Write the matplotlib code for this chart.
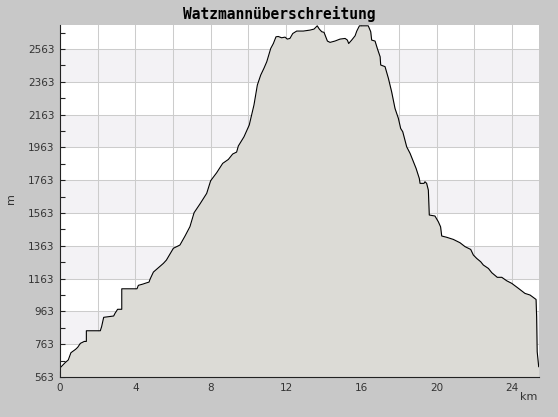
import matplotlib
matplotlib.use("Agg")
import matplotlib.pyplot as plt
from matplotlib.ticker import MultipleLocator, FixedLocator

title = "Watzmannüberschreitung"
x_label = "km"
y_label = "m"

dist_km = [0.00, 0.27, 0.44, 0.58, 0.83, 0.94, 1.08, 1.29, 1.40, 1.40, 2.14, 2.21, 2.32, 2.85,
           2.92, 3.06, 3.28, 3.28, 4.09, 4.16, 4.41, 4.51, 4.73, 4.78, 4.96, 5.13, 5.49, 5.65,
           6.02, 6.37, 6.64, 6.90, 7.12, 7.43, 7.79, 8.00, 8.32, 8.64, 8.94, 9.17, 9.38, 9.47,
           9.77, 10.05, 10.30, 10.48, 10.66, 10.83, 10.98, 11.19, 11.33, 11.47, 11.59, 11.77,
           11.95, 12.07, 12.21, 12.36, 12.57, 12.92, 13.28, 13.49, 13.66, 13.77, 13.90, 14.02,
           14.20, 14.34, 14.60, 14.87, 15.14, 15.26, 15.33, 15.49, 15.67, 15.76, 15.90, 16.37,
           16.50, 16.55, 16.73, 16.85, 17.00, 17.03, 17.26, 17.44, 17.61, 17.79, 17.97, 18.09,
           18.20, 18.41, 18.59, 18.73, 18.91, 19.08, 19.12, 19.33, 19.38, 19.47, 19.56, 19.61,
           19.91, 20.09, 20.21, 20.27, 20.54, 20.89, 21.24, 21.51, 21.81, 21.95, 22.13, 22.34,
           22.48, 22.75, 22.93, 23.22, 23.46, 23.72, 23.99, 24.34, 24.69, 24.96, 25.28, 25.31,
           25.34, 25.42]
elev_m = [618, 650, 667, 711, 732, 744, 768, 780, 780, 845, 845, 870, 927, 935,
          951, 976, 976, 1101, 1101, 1122, 1130, 1134, 1142, 1159, 1203, 1220, 1256, 1276,
          1348, 1368, 1423, 1480, 1565, 1618, 1683, 1760, 1809, 1866, 1890, 1923, 1935, 1972,
          2028, 2100, 2222, 2344, 2405, 2446, 2486, 2567, 2597, 2638, 2640, 2632,
          2636, 2624, 2628, 2658, 2673, 2673, 2679, 2685, 2705, 2685, 2669, 2665,
          2612, 2604, 2612, 2624, 2628, 2618, 2597, 2618, 2644, 2673, 2705, 2705,
          2669, 2618, 2612, 2567, 2516, 2466, 2456, 2384, 2303, 2201, 2140, 2079,
          2059, 1967, 1927, 1886, 1835, 1774, 1744, 1744, 1754, 1744, 1703, 1551,
          1545, 1510, 1479, 1423, 1415, 1402, 1382, 1358, 1341, 1307, 1286, 1266,
          1246, 1225, 1199, 1171, 1171, 1150, 1134, 1104, 1073, 1063, 1036, 931,
          717, 626]

y_ticks = [563, 763, 963, 1163, 1363, 1563, 1763, 1963, 2163, 2363, 2563]
x_tick_labels = ["0", "", "4", "", "8", "", "12", "", "16", "", "20", "", "24"]

y_min, y_max = 563, 2710
x_max = 25.42

fig = plt.figure(figsize=(5.58, 4.17), dpi=100)
fig.patch.set_facecolor("#c8c8c8")
ax = fig.add_axes([60 / 558, 40 / 417, 478.7 / 558, 352 / 417])
ax.set_facecolor("white")

# alternating bands
for i in range(len(y_ticks) - 1):
    if i % 2 == 1:
        ax.axhspan(y_ticks[i], y_ticks[i + 1], color="#f3f2f5", lw=0, zorder=0)

ax.set_xlim(0, x_max)
ax.set_ylim(y_min, y_max)

ax.xaxis.set_major_locator(FixedLocator([2 * i for i in range(len(x_tick_labels))]))
ax.set_xticklabels(x_tick_labels)
ax.xaxis.set_minor_locator(MultipleLocator(1))
ax.set_yticks(y_ticks)
ax.set_yticklabels([str(v) for v in y_ticks])
ax.yaxis.set_minor_locator(FixedLocator([v + 100 for v in y_ticks]))

ax.grid(True, which="major", color="#cccccc", lw=0.75, zorder=0.5)
ax.set_axisbelow(True)

ax.fill_between(dist_km, elev_m, y_min, color="#dcdbd6", lw=0, zorder=2)
ax.plot(dist_km, elev_m, color="black", lw=0.8, zorder=3)

for s in ["top", "right"]:
    ax.spines[s].set_visible(False)
for s in ["left", "bottom"]:
    ax.spines[s].set_color("#222222")
    ax.spines[s].set_linewidth(0.8)
    ax.spines[s].set_zorder(4)

ax.tick_params(axis="both", which="both", direction="in", colors="#222222",
               labelcolor="#333333", labelsize=7.5, width=0.8, zorder=4)
ax.tick_params(axis="x", which="major", length=4, pad=4)
ax.tick_params(axis="x", which="minor", length=2.5)
ax.tick_params(axis="y", which="major", length=3.5, pad=4)
ax.tick_params(axis="y", which="minor", length=3.5)

fig.text(0.5, 1 - 14 / 417, title, ha="center", va="center",
         family="DejaVu Sans Mono", fontweight="bold", fontsize=10.5, color="black")
fig.text(537.5 / 558, 1 - 397 / 417, x_label, ha="right", va="center",
         fontsize=8, color="#333333")
fig.text(11 / 558, 1 - 199 / 417, y_label, ha="center", va="center",
         rotation=90, fontsize=8, color="#333333")

fig.savefig("out.png", dpi=100, facecolor=fig.get_facecolor())
